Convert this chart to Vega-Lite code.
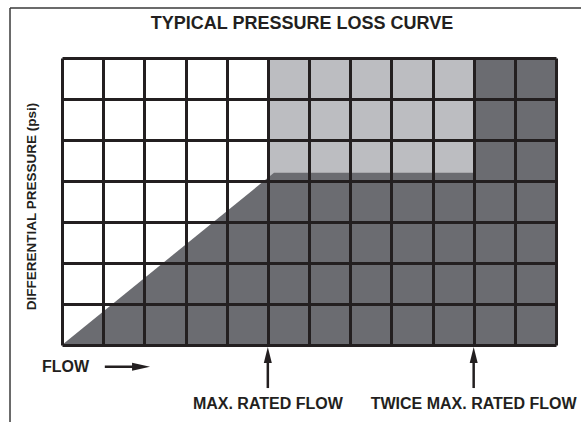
{
  "$schema": "https://vega.github.io/schema/vega-lite/v6.json",
  "width": 494,
  "height": 287,
  "autosize": {"type": "none"},
  "padding": {"left": 62, "top": 58, "right": 25, "bottom": 77},
  "background": "white",
  "config": {
    "view": {"stroke": null},
    "text": {"font": "Liberation Sans", "fontWeight": "bold", "color": "#231f20"}
  },
  "datasets": {
    "zones": [
      {"zone": "up to max rated", "f0": 5, "f1": 10, "p0": 0, "p1": 7},
      {"zone": "over rated", "f0": 10, "f1": 12, "p0": 0, "p1": 7}
    ],
    "curve": [
      {"flow": 0, "dp": 0},
      {"flow": 5.15, "dp": 4.2},
      {"flow": 10, "dp": 4.2}
    ],
    "markers": [
      {"flow": 5, "label": "MAX. RATED FLOW"},
      {"flow": 10, "label": "TWICE MAX. RATED FLOW"}
    ]
  },
  "encoding": {
    "x": {"type": "quantitative"},
    "y": {"type": "quantitative"}
  },
  "layer": [
    {
      "data": {"name": "zones"},
      "mark": {"type": "rect"},
      "encoding": {
        "x": {"field": "f0", "type": "quantitative", "scale": {"domain": [0, 12], "nice": false, "zero": false},
          "axis": {"values": [0,1,2,3,4,5,6,7,8,9,10,11,12], "grid": true, "gridColor": "#231f20", "gridWidth": 3, "gridOpacity": 1, "domain": false, "ticks": false, "labels": false, "title": null, "zindex": 1}},
        "x2": {"field": "f1"},
        "y": {"field": "p0", "type": "quantitative", "scale": {"domain": [0, 7], "nice": false},
          "axis": {"values": [0,1,2,3,4,5,6,7], "grid": true, "gridColor": "#231f20", "gridWidth": 3, "gridOpacity": 1, "domain": false, "ticks": false, "labels": false, "zindex": 1,
            "title": "DIFFERENTIAL PRESSURE (psi)", "titleFont": "Liberation Sans", "titleFontSize": 13.5, "titleFontWeight": "bold", "titleColor": "#231f20", "titlePadding": 24, "titleY": 148}},
        "y2": {"field": "p1"},
        "color": {"field": "zone", "type": "nominal", "scale": {"domain": ["up to max rated", "over rated"], "range": ["#bcbdc1", "#6b6c71"]}, "legend": null}
      }
    },
    {
      "data": {"name": "curve"},
      "mark": {"type": "area", "color": "#6b6c71", "opacity": 1},
      "encoding": {
        "x": {"field": "flow", "type": "quantitative"},
        "y": {"field": "dp", "type": "quantitative"}
      }
    },
    {
      "data": {"name": "markers"},
      "mark": {"type": "rule", "color": "#231f20", "strokeWidth": 2.5},
      "encoding": {
        "x": {"field": "flow", "type": "quantitative"},
        "y": {"datum": -0.3},
        "y2": {"datum": -1.05}
      }
    },
    {
      "data": {"name": "markers"},
      "mark": {"type": "point", "shape": "M0,-1L0.5,1L-0.5,1Z", "filled": true, "color": "#231f20", "size": 256, "opacity": 1},
      "encoding": {
        "x": {"field": "flow", "type": "quantitative"},
        "y": {"datum": -0.244}
      }
    },
    {
      "data": {"name": "markers"},
      "mark": {"type": "text", "fontSize": 16, "align": "center", "baseline": "middle"},
      "encoding": {
        "x": {"field": "flow", "type": "quantitative"},
        "y": {"datum": -1.45},
        "text": {"field": "label"}
      }
    },
    {
      "data": {"values": [{"label": "FLOW", "title": "TYPICAL PRESSURE LOSS CURVE"}]},
      "layer": [
        {
          "mark": {"type": "text", "fontSize": 18, "align": "center", "baseline": "middle"},
          "encoding": {
            "x": {"datum": 5.83},
            "y": {"datum": 7.83},
            "text": {"field": "title"}
          }
        },
        {
          "mark": {"type": "text", "fontSize": 16, "align": "left", "baseline": "middle"},
          "encoding": {
            "x": {"datum": -0.486},
            "y": {"datum": -0.53},
            "text": {"field": "label"}
          }
        },
        {
          "mark": {"type": "rule", "color": "#231f20", "strokeWidth": 2.5},
          "encoding": {
            "x": {"datum": 1.04},
            "x2": {"datum": 1.8},
            "y": {"datum": -0.53}
          }
        },
        {
          "mark": {"type": "point", "shape": "M1,0L-1,-0.45L-1,0.45Z", "filled": true, "color": "#231f20", "size": 324, "opacity": 1},
          "encoding": {
            "x": {"datum": 1.92},
            "y": {"datum": -0.53}
          }
        }
      ]
    },
    {
      "data": {"values": [{"edge": "frame"}]},
      "layer": [
        {
          "mark": {"type": "rule", "color": "#3a3a3a", "strokeWidth": 1.5},
          "encoding": {
            "x": {"datum": -1.263},
            "y": {"datum": -2.5},
            "y2": {"datum": 8.22}
          }
        },
        {
          "mark": {"type": "rule", "color": "#3a3a3a", "strokeWidth": 1.5},
          "encoding": {
            "x": {"datum": -1.263},
            "x2": {"datum": 13},
            "y": {"datum": 8.22}
          }
        }
      ]
    }
  ]
}
